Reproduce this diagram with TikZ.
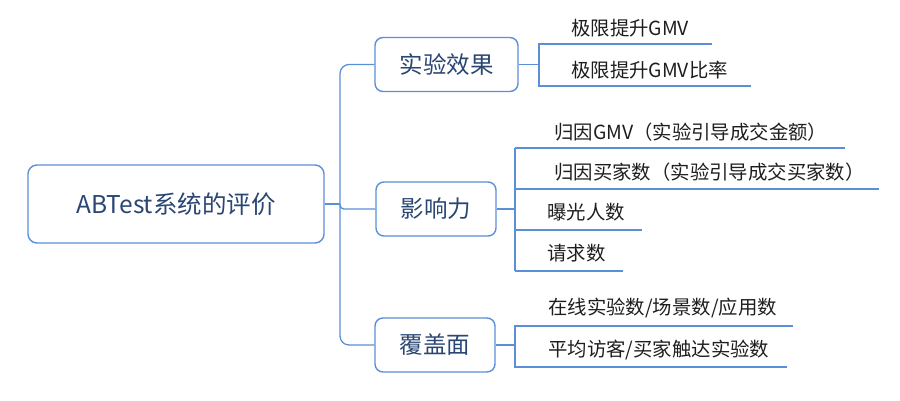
\documentclass[tikz,border=0pt]{standalone}
\usepackage{fontspec}
\setmainfont{Noto Sans CJK SC}
\definecolor{linec}{HTML}{5B8FD8}
\definecolor{boxtext}{HTML}{2A4673}
\definecolor{leaftext}{HTML}{1E1E1E}
\begin{document}
\begin{tikzpicture}[x=1pt,y=-1pt,
  rootbox/.style={draw=linec,line width=1.4pt,rounded corners=9pt,fill=white,
    text=boxtext,font=\fontsize{24.5}{29}\selectfont,inner sep=0pt},
  childbox/.style={draw=linec,line width=1.4pt,rounded corners=8pt,fill=white,
    text=boxtext,font=\fontsize{23.5}{28}\selectfont,inner sep=0pt,minimum height=54pt},
  leaf/.style={anchor=west,text=leaftext,font=\fontsize{19.4}{23}\selectfont,inner sep=0pt},
  conn/.style={draw=linec,line width=1.3pt,rounded corners=9pt},
  uline/.style={draw=linec,line width=1.3pt}]
\useasboundingbox (0,0) rectangle (900,400);

% root and children
\node[rootbox,minimum width=296pt,minimum height=78pt] (root) at (176,204) {ABTest系统的评价};
\node[childbox,minimum width=143pt] (c1) at (446.5,64.5) {实验效果};
\node[childbox,minimum width=120pt] (c2) at (436,209) {影响力};
\node[childbox,minimum width=120pt] (c3) at (435,345) {覆盖面};

% trunk
\coordinate (tk) at (340,204);
\draw[conn] (root.east) -- (tk);
\draw[conn] (c1.west) -| (tk);
\draw[conn] (c3.west) -| (tk);
\draw[conn,rounded corners=4pt] (tk) |- (c2.west);

% leaves of c1
\coordinate (b1) at (539,64.5);
\coordinate (u11s) at (539,44);  \coordinate (u11e) at (712,44);
\coordinate (u12s) at (539,86);  \coordinate (u12e) at (751,86);
\draw[uline] (c1.east) -- (b1);
\draw[uline] (u11e) -- (u11s) -- (u12s) -- (u12e);
\node[leaf] (l11) at (571,28) {极限提升GMV};
\node[leaf] (l12) at (571,70) {极限提升GMV比率};

% leaves of c2
\coordinate (b2) at (515,209);
\coordinate (u21s) at (515,148); \coordinate (u21e) at (845,148);
\coordinate (u22s) at (515,189); \coordinate (u22e) at (879,189);
\coordinate (u23s) at (515,230); \coordinate (u23e) at (642,230);
\coordinate (u24s) at (515,271); \coordinate (u24e) at (623,271);
\draw[uline] (c2.east) -- (b2);
\draw[uline] (u21s) -- (u24s);
\draw[uline] (u21s) -- (u21e);
\draw[uline] (u22s) -- (u22e);
\draw[uline] (u23s) -- (u23e);
\draw[uline] (u24s) -- (u24e);
\node[leaf] (l21) at (554,132) {归因GMV（实验引导成交金额）};
\node[leaf] (l22) at (554,172) {归因买家数（实验引导成交买家数）};
\node[leaf] (l23) at (547,212) {曝光人数};
\node[leaf] (l24) at (547,253) {请求数};

% leaves of c3
\coordinate (b3) at (515,345);
\coordinate (u31s) at (515,326); \coordinate (u31e) at (793,326);
\coordinate (u32s) at (515,367); \coordinate (u32e) at (787,367);
\draw[uline] (c3.east) -- (b3);
\draw[uline] (u31e) -- (u31s) -- (u32s) -- (u32e);
\node[leaf] (l31) at (548,308) {在线实验数/场景数/应用数};
\node[leaf] (l32) at (548,350) {平均访客/买家触达实验数};
\end{tikzpicture}
\end{document}
